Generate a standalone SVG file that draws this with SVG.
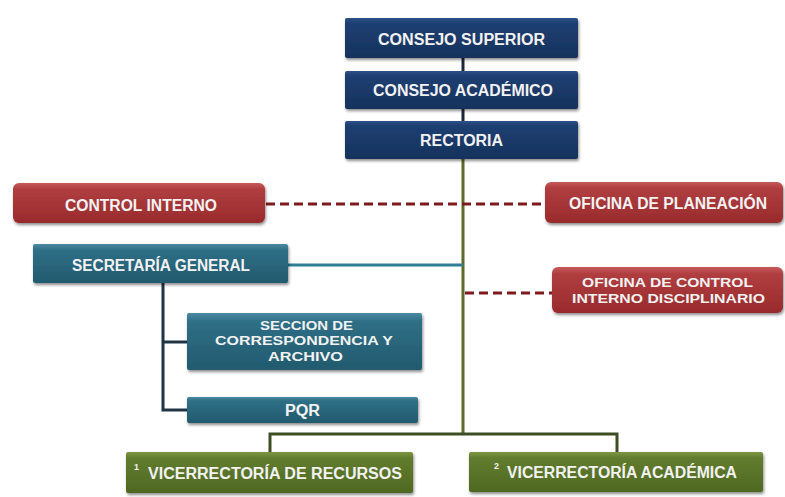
<svg xmlns="http://www.w3.org/2000/svg" width="785" height="497" viewBox="0 0 785 497">
<defs>
<linearGradient id="gNavy" x1="0" y1="0" x2="0" y2="1">
<stop offset="0" stop-color="#2d5189"/><stop offset="0.12" stop-color="#1f3f72"/><stop offset="1" stop-color="#15325c"/>
</linearGradient>
<linearGradient id="gRed" x1="0" y1="0" x2="0" y2="1">
<stop offset="0" stop-color="#c65a5a"/><stop offset="0.15" stop-color="#b03e40"/><stop offset="1" stop-color="#982a2c"/>
</linearGradient>
<linearGradient id="gTeal" x1="0" y1="0" x2="0" y2="1">
<stop offset="0" stop-color="#4a8aa0"/><stop offset="0.15" stop-color="#2f6f86"/><stop offset="1" stop-color="#225a6e"/>
</linearGradient>
<linearGradient id="gGreen" x1="0" y1="0" x2="0" y2="1">
<stop offset="0" stop-color="#7d9644"/><stop offset="0.15" stop-color="#617c2e"/><stop offset="1" stop-color="#4f6822"/>
</linearGradient>
<filter id="sh" x="-10%" y="-20%" width="120%" height="150%">
<feDropShadow dx="1" dy="2" stdDeviation="1.6" flood-color="#000" flood-opacity="0.45"/>
</filter>
</defs>
<style>
.t{font-family:"Liberation Sans",Arial,sans-serif;font-weight:bold;font-size:16px;fill:#f2f2f2;text-anchor:middle;dominant-baseline:central}
.m{font-size:13px}
.sup{font-family:"Liberation Sans",Arial,sans-serif;font-weight:bold;font-size:9px;fill:#f2f2f2}
.navy{fill:url(#gNavy);filter:url(#sh)}
.red{fill:url(#gRed);filter:url(#sh)}
.teal{fill:url(#gTeal);filter:url(#sh)}
.green{fill:url(#gGreen);filter:url(#sh)}
.ln{fill:none;stroke-width:3}
.dash{fill:none;stroke:#7e1a1d;stroke-width:3;stroke-dasharray:9 5}
</style>
<rect width="785" height="497" fill="#ffffff"/>
<g id="connectors">
<line class="ln" x1="463" y1="58" x2="463" y2="71" stroke="#1e2a3a"/>
<line class="ln" x1="463" y1="109" x2="463" y2="121" stroke="#1e2a3a"/>
<line class="ln" x1="463" y1="158" x2="463" y2="435" stroke="#5a6b2a"/>
<polyline class="ln" points="270,452 270,434 617,434 617,452" stroke="#3f4d24"/>
<line class="ln" x1="288" y1="265" x2="463" y2="265" stroke="#2f7e96" stroke-width="2.5"/>
<polyline class="ln" points="163,283 163,410 187,410" stroke="#1f3544"/>
<line class="ln" x1="163" y1="342" x2="187" y2="342" stroke="#1f3544"/>
<line class="dash" x1="266" y1="204" x2="545" y2="204"/>
<line class="dash" x1="465" y1="293" x2="552" y2="293"/>
</g>
<g id="consejo-superior">
<rect class="navy" x="345" y="18" width="233" height="40" rx="2"/>
<text class="t" x="461.5" y="39" textLength="167" lengthAdjust="spacingAndGlyphs">CONSEJO SUPERIOR</text>
</g>
<g id="consejo-academico">
<rect class="navy" x="345" y="71" width="233" height="38" rx="2"/>
<text class="t" x="463" y="90" textLength="180" lengthAdjust="spacingAndGlyphs">CONSEJO ACADÉMICO</text>
</g>
<g id="rectoria">
<rect class="navy" x="345" y="121" width="233" height="38" rx="2"/>
<text class="t" x="461.5" y="140" textLength="83" lengthAdjust="spacingAndGlyphs">RECTORIA</text>
</g>
<g id="control-interno">
<rect class="red" x="13" y="183" width="252" height="40" rx="6"/>
<text class="t" x="141" y="205" textLength="152" lengthAdjust="spacingAndGlyphs">CONTROL INTERNO</text>
</g>
<g id="oficina-planeacion">
<rect class="red" x="545" y="182" width="238" height="41" rx="6"/>
<text class="t" x="668" y="203" textLength="198" lengthAdjust="spacingAndGlyphs">OFICINA DE PLANEACIÓN</text>
</g>
<g id="oficina-control-disciplinario">
<rect class="red" x="552" y="267" width="231" height="46" rx="6"/>
<text class="t m" x="667.5" y="282.5" textLength="171" lengthAdjust="spacingAndGlyphs">OFICINA DE CONTROL</text>
<text class="t m" x="668.5" y="298" textLength="193" lengthAdjust="spacingAndGlyphs">INTERNO DISCIPLINARIO</text>
</g>
<g id="secretaria-general">
<rect class="teal" x="33" y="244" width="255" height="39" rx="2"/>
<text class="t" x="161" y="265" textLength="178" lengthAdjust="spacingAndGlyphs">SECRETARÍA GENERAL</text>
</g>
<g id="seccion-correspondencia">
<rect class="teal" x="187" y="313" width="235" height="57" rx="2"/>
<text class="t m" x="306.5" y="325" textLength="93" lengthAdjust="spacingAndGlyphs">SECCION DE</text>
<text class="t m" x="304" y="340.5" textLength="178" lengthAdjust="spacingAndGlyphs">CORRESPONDENCIA Y</text>
<text class="t m" x="305.5" y="356" textLength="75" lengthAdjust="spacingAndGlyphs">ARCHIVO</text>
</g>
<g id="pqr">
<rect class="teal" x="187" y="397" width="231" height="26" rx="2"/>
<text class="t" x="302.5" y="410" textLength="35" lengthAdjust="spacingAndGlyphs">PQR</text>
</g>
<g id="vicerrectoria-recursos">
<rect class="green" x="126" y="452" width="287" height="41" rx="2"/>
<text class="sup" x="134" y="470">1</text>
<text class="t" x="275" y="473" textLength="254" lengthAdjust="spacingAndGlyphs">VICERRECTORÍA DE RECURSOS</text>
</g>
<g id="vicerrectoria-academica">
<rect class="green" x="469" y="452" width="294" height="40" rx="2"/>
<text class="sup" x="494" y="469">2</text>
<text class="t" x="622" y="472" textLength="230" lengthAdjust="spacingAndGlyphs">VICERRECTORÍA ACADÉMICA</text>
</g>
</svg>
